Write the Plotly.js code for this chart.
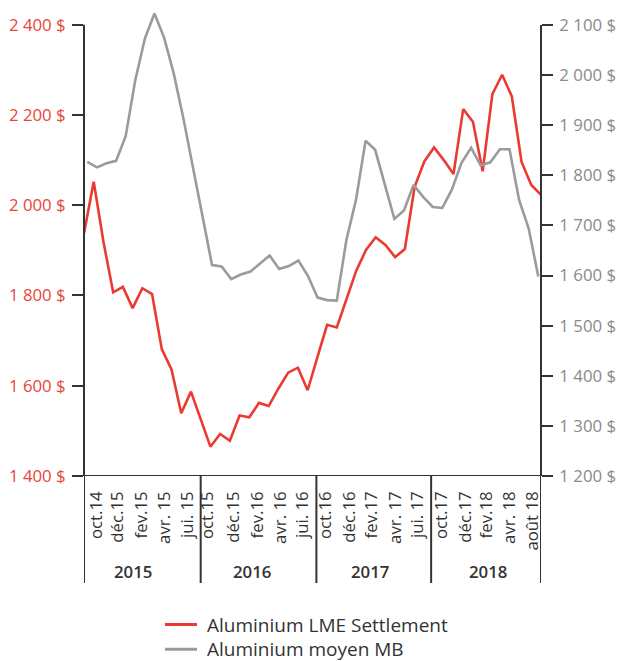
<!DOCTYPE html>
<html>
<head>
<meta charset="utf-8">
<script src="https://cdn.plot.ly/plotly-3.0.1.min.js"></script>
<style>html,body{margin:0;padding:0;background:#fff;}#chart{width:618px;height:661px;}</style>
</head>
<body>
<div id="chart"></div>
<script>
// Month index 0 = Oct 2014 ... 47 = Sep 2018
var months = [];
for (var i = 0; i < 48; i++) months.push(i);

var lmeSettlement = [1938, 2052, 1919, 1807, 1819, 1772, 1816, 1803, 1681, 1636, 1539, 1587,
                     1526, 1465, 1493, 1478, 1534, 1530, 1562, 1555, 1594, 1629, 1640, 1590,
                     1663, 1735, 1729, 1790, 1855, 1901, 1929, 1912, 1885, 1903, 2041, 2097,
                     2128, 2100, 2069, 2213, 2185, 2075, 2246, 2289, 2241, 2096, 2045, 2023];

var moyenMB = [1827, 1816, 1824, 1829, 1878, 1990, 2073, 2123, 2075, 2004, 1915, 1815,
               1717, 1621, 1618, 1593, 1602, 1608, 1624, 1640, 1613, 1619, 1630, 1599,
               1556, 1551, 1550, 1671, 1751, 1869, 1851, 1781, 1713, 1730, 1781, 1757,
               1737, 1735, 1772, 1825, 1855, 1820, 1826, 1852, 1852, 1751, 1694, 1598];

var monthTickVals = [1.3, 3.5, 5.9, 8.3, 10.6, 12.7, 15.4, 17.8, 20.2, 22.5,
                     24.8, 27.3, 29.6, 32.0, 34.3, 36.8, 39.2, 41.4, 43.8, 46.1];
var monthTickText = ["oct.14", "déc.15", "fev.15", "avr. 15", "jui. 15",
                     "oct.15", "déc.15", "fev.16", "avr. 16", "jui. 16",
                     "oct.16", "déc.16", "fev.17", "avr. 17", "jui. 17",
                     "oct.17", "déc.17", "fev.18", "avr. 18", "août 18"];

var years = ["2015", "2016", "2017", "2018"];
var yearLabelPos = [5.0, 17.3, 29.4, 41.5];
var yearBounds = [0, 12, 23.9, 35.7, 47];

var leftTickVals = [1400, 1600, 1800, 2000, 2200, 2400];
var leftTickText = ["1 400 $", "1 600 $", "1 800 $", "2 000 $", "2 200 $", "2 400 $"];
var rightTickVals = [1200, 1300, 1400, 1500, 1600, 1700, 1800, 1900, 2000, 2100];
var rightTickText = ["1 200 $", "1 300 $", "1 400 $", "1 500 $", "1 600 $", "1 700 $",
                     "1 800 $", "1 900 $", "2 000 $", "2 100 $"];

var seriesNames = ["Aluminium LME Settlement", "Aluminium moyen MB"];

var FONT = "Open Sans, Noto Sans, sans-serif";
var RED = "#ea3a31";
var GREY = "#9b9b9b";
var DARK = "#333333";
var seriesColors = [RED, GREY];

var traces = [
  {x: months, y: lmeSettlement, name: seriesNames[0], type: "scatter", mode: "lines",
   line: {color: RED, width: 2.6}, xaxis: "x", yaxis: "y", showlegend: false},
  {x: months, y: moyenMB, name: seriesNames[1], type: "scatter", mode: "lines",
   line: {color: GREY, width: 2.6}, xaxis: "x2", yaxis: "y2", showlegend: false}
];

var shapes = [
  {type: "line", xref: "paper", yref: "y", x0: 0, x1: 0, y0: 1400, y1: 2400, line: {color: DARK, width: 2}},
  {type: "line", xref: "paper", yref: "y2", x0: 1, x1: 1, y0: 1200, y1: 2100, line: {color: DARK, width: 2}},
  {type: "line", xref: "paper", yref: "y", x0: 0, x1: 1, y0: 1400, y1: 1400, line: {color: DARK, width: 2}}
];
yearBounds.forEach(function (b) {
  shapes.push({type: "line", xref: "x", yref: "paper", x0: b, x1: b, y0: 0, y1: -0.2286,
               line: {color: DARK, width: 2}});
});

var annotations = years.map(function (yr, k) {
  return {text: yr, xref: "x", yref: "paper", x: yearLabelPos[k], y: -0.2051,
          xanchor: "center", yanchor: "middle", showarrow: false,
          font: {family: FONT, size: 16.8, color: DARK, weight: 600}};
});

// Legend (drawn below the chart)
var legendRowsY = [-0.3175, -0.3700];
seriesNames.forEach(function (nm, k) {
  shapes.push({type: "line", xref: "paper", yref: "paper", x0: 0.1772, x1: 0.2473,
               y0: legendRowsY[k], y1: legendRowsY[k], line: {color: seriesColors[k], width: 3}});
  annotations.push({text: nm, xref: "paper", yref: "paper", x: 0.266, y: legendRowsY[k],
                    xanchor: "left", yanchor: "middle", showarrow: false, borderpad: 0,
                    font: {family: FONT, size: 19, color: DARK}});
});

var layout = {
  width: 618, height: 661,
  margin: {l: 84, r: 77, t: 8, b: 185},
  paper_bgcolor: "#ffffff", plot_bgcolor: "#ffffff",
  showlegend: false,
  xaxis: {range: [0, 47], tickmode: "array", tickvals: monthTickVals, ticktext: monthTickText,
          tickangle: -90, ticks: "", showgrid: false, zeroline: false, showline: false,
          automargin: false,
          tickfont: {family: FONT, size: 16.8, color: DARK}, ticklabelstandoff: 11},
  xaxis2: {range: [-0.344, 47.282], overlaying: "x", visible: false, automargin: false},
  yaxis: {range: [1400, 2437], tickmode: "array", tickvals: leftTickVals, ticktext: leftTickText,
          ticks: "outside", ticklen: 11, tickwidth: 2, tickcolor: DARK, showgrid: false,
          zeroline: false, showline: false, automargin: false,
          tickfont: {family: FONT, size: 16.8, color: "#e8463b"}, ticklabelstandoff: 3},
  yaxis2: {range: [1200, 2134], overlaying: "y", side: "right", tickmode: "array",
           tickvals: rightTickVals, ticktext: rightTickText, automargin: false,
           ticks: "outside", ticklen: 11, tickwidth: 2, tickcolor: DARK, showgrid: false,
           zeroline: false, showline: false, tickfont: {family: FONT, size: 16.8, color: "#8a8a8a"},
           ticklabelstandoff: 3},
  shapes: shapes,
  annotations: annotations,
  font: {family: FONT}
};

Plotly.newPlot("chart", traces, layout, {displayModeBar: false, staticPlot: true});
</script>
</body>
</html>
